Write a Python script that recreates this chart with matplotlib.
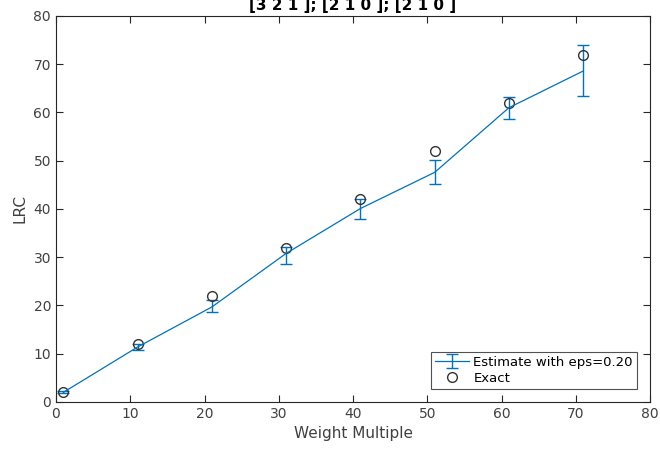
import numpy as np
import matplotlib.pyplot as plt

# Values
weight = [1, 11, 21, 31, 41, 51, 61, 71]
estimate = [2.0, 11.4, 19.7, 30.8, 40.1, 47.6, 61.0, 68.6]
err_low = [0.2, 0.6, 1.1, 2.1, 2.2, 2.4, 2.3, 5.1]
err_high = [0.2, 0.6, 1.4, 1.3, 1.9, 2.6, 2.3, 5.4]
exact = [2, 12, 22, 32, 42, 52, 62, 72]

plt.rcParams['font.family'] = 'DejaVu Sans'
axis_color = '#262626'

fig = plt.figure(figsize=(6.6, 4.49), dpi=100)
ax = fig.add_axes([0.0848, 0.1047, 0.9002, 0.8597])

est = ax.errorbar(weight, estimate, yerr=[err_low, err_high], color='#0072BD',
                  linewidth=0.9, elinewidth=1.0, capsize=4, capthick=1.0,
                  label='Estimate with eps=0.20')
ex, = ax.plot(weight, exact, linestyle='none', marker='o', markersize=7,
              markerfacecolor='none', markeredgecolor='#333333',
              markeredgewidth=1.0, label='Exact')

ax.set_xlim(0, 80)
ax.set_ylim(0, 80)
ax.set_xticks(np.arange(0, 81, 10))
ax.set_yticks(np.arange(0, 81, 10))
ax.tick_params(direction='in', top=True, right=True, length=5, width=0.8,
               labelsize=10, colors=axis_color, labelcolor='#404040')
for sp in ax.spines.values():
    sp.set_color(axis_color)
    sp.set_linewidth(0.8)

ax.set_xlabel('Weight Multiple', fontsize=11, color='#404040')
ax.set_ylabel('LRC', fontsize=11, color='#404040')
# the reference title is clipped at the top edge of the image
ax.set_title('[3 2 1 ]; [2 1 0 ]; [2 1 0 ]', fontsize=11, fontweight='bold',
             pad=4)

leg = ax.legend([est, ex], ['Estimate with eps=0.20', 'Exact'],
                loc='lower right', fontsize=9.5, frameon=True, fancybox=False,
                edgecolor=axis_color, borderpad=0.3, handlelength=2.6,
                handletextpad=0.3, labelspacing=0.25, borderaxespad=1.0)
leg.get_frame().set_linewidth(0.8)

fig.savefig('out.png', dpi=100)
